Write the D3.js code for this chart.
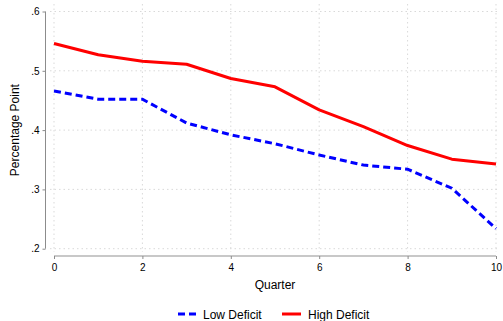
<!DOCTYPE html>
<html>
<head>
<meta charset="utf-8">
<script src="https://cdn.jsdelivr.net/npm/d3@7"></script>
<style>
  body { margin: 0; background: #fff; }
  svg { display: block; font-family: "Liberation Sans", Arial, sans-serif; }
  .grid line { stroke: #d9d9d9; stroke-width: 1; stroke-dasharray: 1.5 3; }
</style>
</head>
<body>
<div id="chart"></div>
<script>
// values
const quarters = [0, 1, 2, 3, 4, 5, 6, 7, 8, 9, 10];
const lowDeficit  = [0.466, 0.452, 0.452, 0.412, 0.392, 0.377, 0.358, 0.341, 0.334, 0.302, 0.234];
const highDeficit = [0.546, 0.527, 0.516, 0.511, 0.487, 0.473, 0.434, 0.406, 0.374, 0.351, 0.343];
const xTicks = [0, 2, 4, 6, 8, 10];
const yTicks = [0.2, 0.3, 0.4, 0.5, 0.6];
const yTickLabels = [".2", ".3", ".4", ".5", ".6"];

const width = 503, height = 321;

const svg = d3.select("#chart").append("svg")
    .attr("width", width)
    .attr("height", height);

const x = d3.scaleLinear().domain([0, 10]).range([54, 496]);
const y = d3.scaleLinear().domain([0.2, 0.6]).range([248.7, 11.5]);

// grid
const grid = svg.append("g").attr("class", "grid");
grid.selectAll(".h").data(yTicks).enter().append("line")
    .attr("x1", 50).attr("x2", 500)
    .attr("y1", d => y(d)).attr("y2", d => y(d));
grid.selectAll(".v").data(xTicks).enter().append("line")
    .attr("x1", d => x(d)).attr("x2", d => x(d))
    .attr("y1", 4).attr("y2", 252);

// y axis
const yAxis = svg.append("g")
    .attr("transform", "translate(45.5,0)")
    .call(d3.axisLeft(y).tickValues(yTicks).tickFormat((d, i) => yTickLabels[i]).tickSize(3).tickPadding(3));
yAxis.select(".domain").attr("stroke", "#8c8c8c").attr("d", `M0,${y(0.6)}V${y(0.2)}`);
yAxis.selectAll(".tick line").attr("stroke", "#8c8c8c");
yAxis.selectAll(".tick text").attr("font-size", 10).attr("fill", "#000");

// x axis
const xAxis = svg.append("g")
    .attr("transform", "translate(0,256)")
    .call(d3.axisBottom(x).tickValues(xTicks).tickSize(3).tickPadding(5));
xAxis.select(".domain").attr("stroke", "#c8c8c8").attr("stroke-width", 2).attr("d", `M${x(0)},0H${x(10)}`);
xAxis.selectAll(".tick line").attr("stroke", "#8c8c8c");
xAxis.selectAll(".tick text").attr("font-size", 10).attr("fill", "#000");

// axis titles
svg.append("text")
    .attr("x", (x(0) + x(10)) / 2).attr("y", 289)
    .attr("text-anchor", "middle").attr("font-size", 12)
    .text("Quarter");
svg.append("text")
    .attr("transform", `translate(19,${(y(0.6) + y(0.2)) / 2}) rotate(-90)`)
    .attr("text-anchor", "middle").attr("font-size", 12)
    .text("Percentage Point");

// lines
const line = d3.line()
    .x((d, i) => x(quarters[i]))
    .y(d => y(d));

svg.append("path")
    .datum(highDeficit)
    .attr("fill", "none")
    .attr("stroke", "#ff0000")
    .attr("stroke-width", 3)
    .attr("stroke-linejoin", "round")
    .attr("d", line);

svg.append("path")
    .datum(lowDeficit)
    .attr("fill", "none")
    .attr("stroke", "#0000ff")
    .attr("stroke-width", 3)
    .attr("stroke-dasharray", "7 4")
    .attr("d", line);

// legend
const legend = svg.append("g").attr("transform", "translate(0,314)");
legend.append("line")
    .attr("x1", 178).attr("x2", 197).attr("y1", 0).attr("y2", 0)
    .attr("stroke", "#0000ff").attr("stroke-width", 3).attr("stroke-dasharray", "7 4");
legend.append("text")
    .attr("x", 203).attr("y", 4.5).attr("font-size", 12)
    .text("Low Deficit");
legend.append("line")
    .attr("x1", 282).attr("x2", 301).attr("y1", 0).attr("y2", 0)
    .attr("stroke", "#ff0000").attr("stroke-width", 3);
legend.append("text")
    .attr("x", 308).attr("y", 4.5).attr("font-size", 12)
    .text("High Deficit");
</script>
</body>
</html>
